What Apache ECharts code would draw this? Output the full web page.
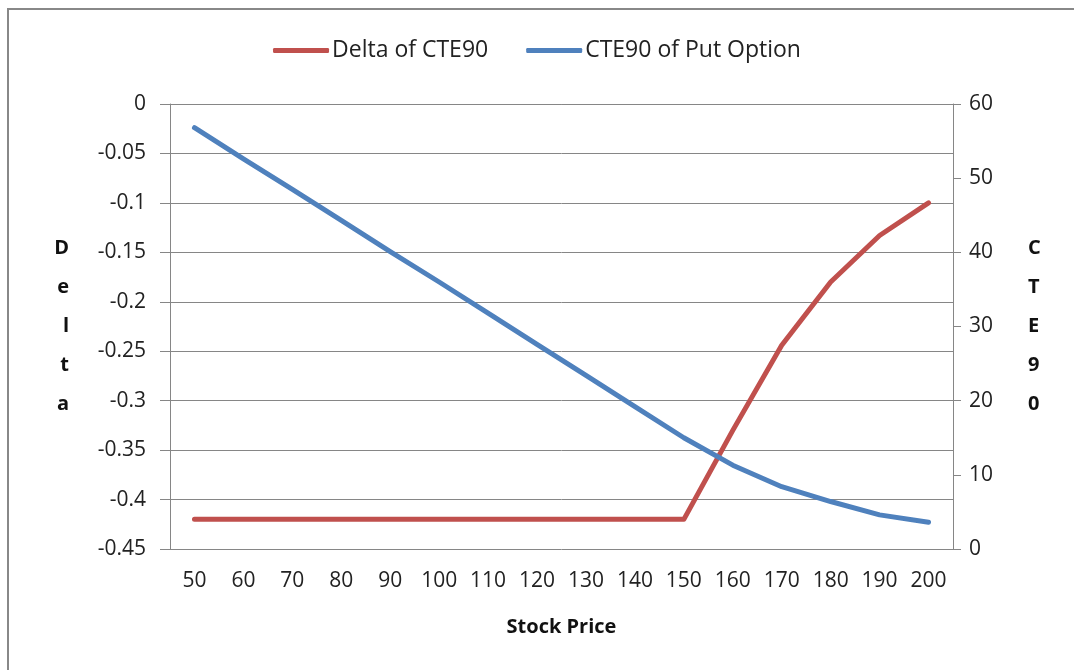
<!DOCTYPE html>
<html>
<head>
<meta charset="utf-8">
<script src="https://cdn.jsdelivr.net/npm/echarts@6/dist/echarts.min.js"></script>
<style>
  html, body { margin: 0; padding: 0; background: #fff; }
  #chart { width: 1074px; height: 670px; }
</style>
</head>
<body>
<div id="chart"></div>
<script>
const stockPrices = ['50', '60', '70', '80', '90', '100', '110', '120', '130', '140', '150', '160', '170', '180', '190', '200']
const deltaValues = [-0.42, -0.42, -0.42, -0.42, -0.42, -0.42, -0.42, -0.42, -0.42, -0.42, -0.42, -0.33, -0.244, -0.18, -0.133, -0.10]
const cteValues = [56.8, 52.6, 48.5, 44.3, 40.1, 36.0, 31.8, 27.6, 23.4, 19.2, 15.0, 11.3, 8.4, 6.4, 4.6, 3.6]

const font = 'Open Sans'
const axisGray = '#868686'

const chart = echarts.init(document.getElementById('chart'))

const option = {
    backgroundColor: '#fff',
    textStyle: { fontFamily: font },
    animation: false,
    graphic: [
        {
            type: 'rect',
            shape: { x: 8, y: 9, width: 1080, height: 680 },
            style: { fill: 'none', stroke: '#888', lineWidth: 2 }
        }
    ],
    legend: {
        top: 34,
        left: 'center',
        itemWidth: 56,
        itemHeight: 5,
        itemGap: 38,
        icon: 'roundRect',
        textStyle: { fontSize: 23, color: '#222', fontFamily: font, padding: [0, 0, 0, -2] },
        data: ['Delta of CTE90', 'CTE90 of Put Option']
    },
    grid: { left: 170, right: 121, top: 104, bottom: 121 },
    xAxis: {
        type: 'category',
        data: stockPrices,
        boundaryGap: true,
        name: 'Stock Price',
        nameLocation: 'middle',
        nameGap: 68,
        nameTextStyle: { fontSize: 20, fontWeight: 'bold', color: '#111' },
        axisLine: { lineStyle: { color: axisGray, width: 1 } },
        axisTick: { alignWithLabel: false, length: 8, lineStyle: { color: axisGray } },
        axisLabel: { fontSize: 21, color: '#222', margin: 22, interval: 0 }
    },
    yAxis: [
        {
            type: 'value',
            min: -0.45,
            max: 0,
            interval: 0.05,
            name: 'D\ne\nl\nt\na',
            nameLocation: 'middle',
            nameRotate: 0,
            nameGap: 101,
            nameTextStyle: { fontSize: 20, fontWeight: 'bold', color: '#111', lineHeight: 39, padding: [10, 0, 0, 0] },
            axisLine: { show: true, lineStyle: { color: axisGray } },
            axisTick: { show: true, length: 10, lineStyle: { color: axisGray } },
            axisLabel: {
                fontSize: 21, color: '#222', margin: 24,
                formatter: v => String(parseFloat(v.toFixed(2)))
            },
            splitLine: { show: true, lineStyle: { color: axisGray, width: 1 } }
        },
        {
            type: 'value',
            min: 0,
            max: 60,
            interval: 10,
            name: 'C\nT\nE\n9\n0',
            nameLocation: 'middle',
            nameRotate: 0,
            nameGap: 75,
            nameTextStyle: { fontSize: 20, fontWeight: 'bold', color: '#111', lineHeight: 39, padding: [10, 0, 0, 0] },
            axisLine: { show: true, lineStyle: { color: axisGray } },
            axisTick: { show: true, length: 8, lineStyle: { color: axisGray } },
            axisLabel: { fontSize: 21, color: '#222', margin: 16 },
            splitLine: { show: false }
        }
    ],
    series: [
        {
            name: 'Delta of CTE90',
            type: 'line',
            yAxisIndex: 0,
            data: deltaValues,
            showSymbol: false,
            symbol: 'none',
            lineStyle: { color: '#C0504D', width: 5, cap: 'round', join: 'round' },
            itemStyle: { color: '#C0504D' }
        },
        {
            name: 'CTE90 of Put Option',
            type: 'line',
            yAxisIndex: 1,
            data: cteValues,
            showSymbol: false,
            symbol: 'none',
            lineStyle: { color: '#4F81BD', width: 5, cap: 'round', join: 'round' },
            itemStyle: { color: '#4F81BD' }
        }
    ]
}

chart.setOption(option)
window.addEventListener('resize', () => chart.resize())
</script>
</body>
</html>
